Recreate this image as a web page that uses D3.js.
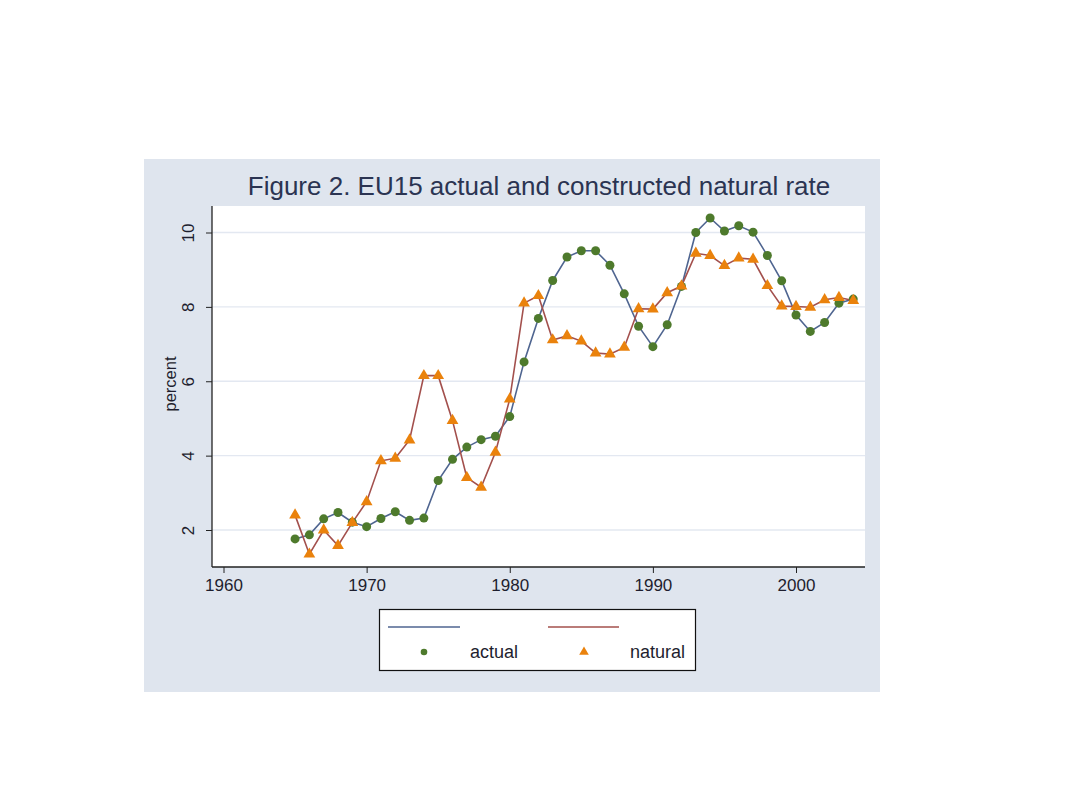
<!DOCTYPE html>
<html><head><meta charset="utf-8">
<script src="https://cdn.jsdelivr.net/npm/d3@7"></script>
<style>body{margin:0;background:#fff;}svg{display:block;font-family:"Liberation Sans",Arial,sans-serif;}</style>
</head><body><svg id="c" width="1080" height="810"></svg>
<script>
const years = d3.range(1965, 2005);
const actual = [1.76,1.87,2.30,2.47,2.21,2.09,2.31,2.49,2.26,2.32,3.33,3.90,4.23,4.43,4.52,5.05,6.52,7.69,8.71,9.34,9.51,9.51,9.12,8.35,7.48,6.93,7.52,8.55,10.0,10.39,10.04,10.18,10.01,9.38,8.70,7.78,7.34,7.58,8.10,8.21];
const natural = [2.40,1.35,2.00,1.58,2.20,2.76,3.86,3.93,4.42,6.15,6.15,4.94,3.41,3.15,4.09,5.52,8.10,8.30,7.11,7.22,7.08,6.76,6.73,6.91,7.95,7.94,8.38,8.56,9.44,9.38,9.11,9.31,9.28,8.57,8.02,8.01,7.99,8.19,8.25,8.17];
const xTicks = [1960,1970,1980,1990,2000];
const yTicks = [2,4,6,8,10];
const title = "Figure 2. EU15 actual and constructed natural rate";
const yLabel = "percent";
const seriesNames = ["actual","natural"];

const svg = d3.select("#c");
svg.append("rect").attr("x",144).attr("y",159).attr("width",736).attr("height",533).attr("fill","#dfe5ee");
const L=212,R=865,T=206,B=567;
svg.append("rect").attr("x",L).attr("y",T).attr("width",R-L).attr("height",B-T).attr("fill","#fff");
const x = d3.scaleLinear().domain([1960,2000]).range([223.5,796]);
const y = d3.scaleLinear().domain([2,10]).range([530,232.5]);

// gridlines
svg.append("g").selectAll("line").data(yTicks).join("line")
 .attr("x1",L).attr("x2",R).attr("y1",d=>y(d)).attr("y2",d=>y(d))
 .attr("stroke","#e3e8f1").attr("stroke-width",1.3);

// axes
const xa = svg.append("g").attr("transform",`translate(0,${B})`)
 .call(d3.axisBottom(x).tickValues(xTicks).tickFormat(d3.format("d")).tickSize(6).tickSizeOuter(0));
xa.select(".domain").attr("d",`M${L},0H${R}`).attr("stroke","#222").attr("stroke-width",1.3);
xa.selectAll(".tick line").attr("stroke","#222");
xa.selectAll("text").attr("font-size",17).attr("fill","#1e1e2e").attr("dy","0.9em").attr("font-family","Liberation Sans, Arial");
const ya = svg.append("g").attr("transform",`translate(${L},0)`)
 .call(d3.axisLeft(y).tickValues(yTicks).tickSize(6).tickSizeOuter(0));
ya.select(".domain").attr("d",`M0,${T}V${B}`).attr("stroke","#222").attr("stroke-width",1.3);
ya.selectAll(".tick line").attr("stroke","#222");
ya.selectAll("text").attr("font-size",17).attr("fill","#1e1e2e").attr("font-family","Liberation Sans, Arial")
 .attr("x",0).attr("dy",0).attr("text-anchor","middle")
 .attr("transform","translate(-18,0) rotate(-90)");

// lines
const line = d3.line().x((d,i)=>x(years[i])).y(d=>y(d));
svg.append("path").datum(actual).attr("d",line).attr("fill","none").attr("stroke","#4f6590").attr("stroke-width",1.6);
svg.append("path").datum(natural).attr("d",line).attr("fill","none").attr("stroke","#a3504d").attr("stroke-width",1.6);
// markers
svg.append("g").selectAll("circle").data(actual).join("circle")
 .attr("cx",(d,i)=>x(years[i])).attr("cy",d=>y(d)).attr("r",4.5).attr("fill","#4e7a2c");
const tri = d3.symbol().type(d3.symbolTriangle).size(60);
svg.append("g").selectAll("path").data(natural).join("path")
 .attr("d",tri).attr("transform",(d,i)=>`translate(${x(years[i])},${y(d)})`).attr("fill","#ea820c");

// title
svg.append("text").attr("x",539).attr("y",195).attr("text-anchor","middle").attr("font-size",26)
 .attr("fill","#2b3452").text(title);
svg.append("text").attr("transform","translate(176,384) rotate(-90)").attr("text-anchor","middle")
 .attr("font-size",16.5).attr("fill","#1e1e2e").text(yLabel);

// legend
const lg = svg.append("g");
lg.append("rect").attr("x",379.5).attr("y",609.5).attr("width",316).attr("height",61).attr("fill","#fff").attr("stroke","#111").attr("stroke-width",1.2);
lg.append("line").attr("x1",388).attr("x2",460).attr("y1",627).attr("y2",627).attr("stroke","#4f6590").attr("stroke-width",1.6);
lg.append("line").attr("x1",548).attr("x2",619).attr("y1",627).attr("y2",627).attr("stroke","#a3504d").attr("stroke-width",1.6);
lg.append("circle").attr("cx",424).attr("cy",652).attr("r",3.3).attr("fill","#4e7a2c");
lg.append("path").attr("d",d3.symbol().type(d3.symbolTriangle).size(40)).attr("transform","translate(584,652)").attr("fill","#ea820c");
lg.append("text").attr("x",470).attr("y",658).attr("font-size",18).attr("fill","#1e1e2e").text(seriesNames[0]);
lg.append("text").attr("x",630).attr("y",658).attr("font-size",18).attr("fill","#1e1e2e").text(seriesNames[1]);
</script></body></html>
